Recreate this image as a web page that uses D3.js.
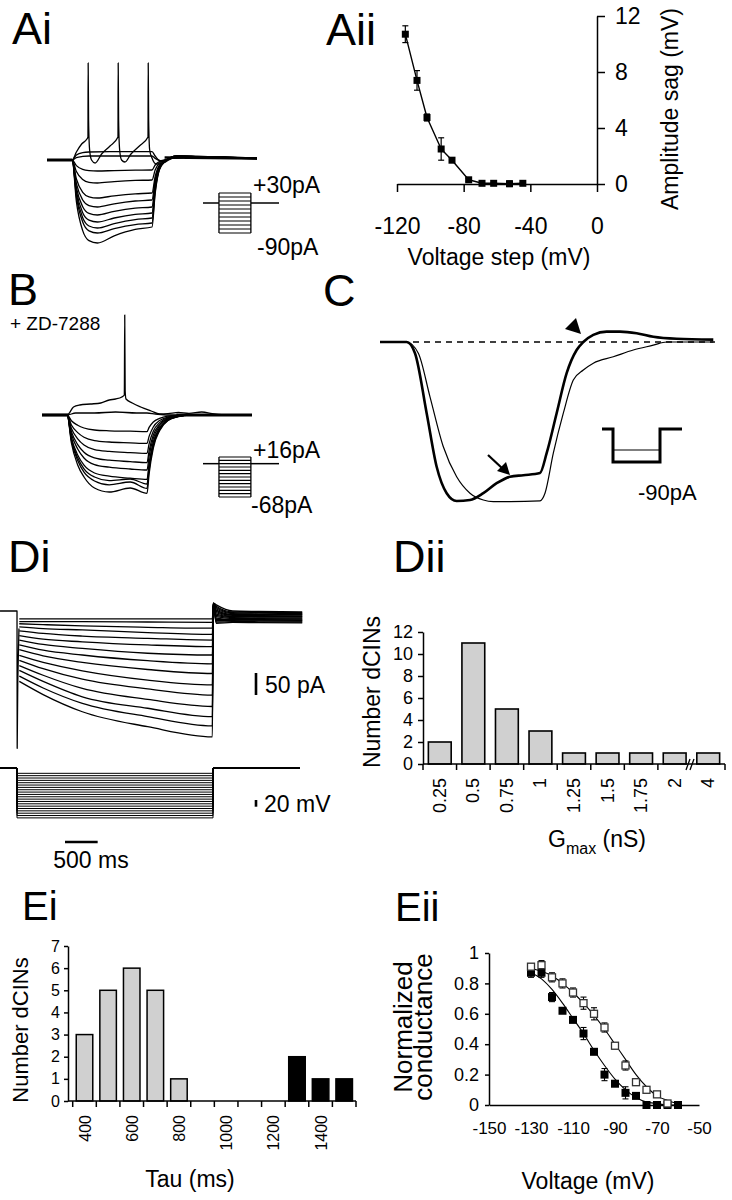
<!DOCTYPE html>
<html><head><meta charset="utf-8">
<script src="https://cdn.jsdelivr.net/npm/d3@7"></script>
<style>
body{margin:0;background:#fff}
svg{display:block}
text{font-family:"Liberation Sans",Arial,Helvetica,sans-serif;fill:#000}
</style></head>
<body><svg id="fig" width="732" height="1200"></svg>
<script>
// ================= DATA =================
// --- Ai: current-clamp traces (time ms, membrane potential mV)
const aiTime = [0,120,140,170,200,240,320,420,500,515,535,560,620,720,1000];
const aiHyper = [
 [-60,-60,-62.8,-64.7,-65.3,-65.5,-65.3,-65.1,-65,-62.5,-60.8,-60.2,-58.5,-58.5,-59.2],
 [-60,-60,-65.8,-69.8,-71.2,-71.5,-70.8,-70.2,-70,-65,-61.5,-60.3,-58.5,-58.5,-59.2],
 [-60,-60,-69.5,-76.2,-78.4,-79,-77.9,-76.9,-76.5,-68.3,-62.5,-60.5,-58.4,-58.5,-59.2],
 [-60,-60,-71.8,-80,-82.8,-83.5,-81.9,-80.5,-80,-70,-63,-60.6,-58.3,-58.4,-59.2],
 [-60,-60,-73.8,-83.4,-86.7,-87.5,-85.7,-84.1,-83.5,-71.8,-63.5,-60.7,-58.2,-58.4,-59.1],
 [-60,-60,-75.5,-86.4,-90.1,-91,-89,-87.2,-86.5,-73.3,-64,-60.8,-58.1,-58.3,-59.1],
 [-60,-60,-77,-88.9,-93,-94,-91.8,-89.8,-89,-74.5,-64.4,-60.9,-58,-58.3,-59.1],
 [-60,-60,-78.3,-91,-95.4,-96.5,-94.3,-92.3,-91.5,-75.8,-64.7,-60.9,-57.9,-58.2,-59],
 [-60,-60,-80.8,-95.3,-100.3,-101.5,-97.9,-94.7,-93.5,-76.8,-65,-61,-57.8,-58.2,-59]
];
const aiSpikeTime = [0,120,140,165,190,195,196,198,203,212,229,260,300,338,339,341,346,355,371,400,440,481,482,484,489,500,520,552,600,700,1000];
const aiSpikeV    = [-60,-60,-56,-52,-49.5,-48.5,-11.5,-40,-55,-60,-61.5,-57,-53,-48.5,-11.5,-40,-55,-60,-61,-57,-53,-48.5,-11.5,-40,-55,-59,-62,-61.5,-59,-58.5,-59.5];
const aiSubTime = [0,120,140,170,200,300,400,500,515,540,600,700,1000];
const aiSubV1   = [-60,-60,-57.5,-56.3,-56,-55.8,-55.8,-55.8,-58,-60.5,-59,-58.5,-59.3];
const aiSubV2   = [-60,-60,-58.8,-58.2,-58,-58,-58,-58,-59.2,-60.3,-59,-58.6,-59.3];
const aiStepLevels = [30,18,6,-6,-18,-30,-42,-54,-66,-78,-90];

// --- Aii: sag amplitude vs voltage step
const aiiVoltage = [-115,-108,-102,-93.5,-87,-77,-69,-62,-52.5,-44.5];
const aiiSag     = [10.7,7.4,4.75,2.5,1.7,0.3,0.05,0.05,0.02,0.05];
const aiiErr     = [0.6,0.7,0.25,0.8,0.15,0.1,0.05,0.05,0.2,0.05];
const aiiXTicks  = [-120,-80,-40,0];
const aiiYTicks  = [0,4,8,12];

// --- B: traces in ZD-7288
const bTime = [0,120,140,170,200,250,320,420,500,510,530,560,600,650,700,1000];
const bHyper = [
 [-60,-60,-62.9,-65.1,-66.5,-67.5,-67.9,-68.1,-68.3,-66.2,-63.5,-61.7,-60.6,-60.2,-60,-60],
 [-60,-60,-65,-68.8,-71.1,-72.8,-73.5,-73.9,-74.2,-70.7,-66,-62.8,-61,-60.3,-60,-60],
 [-60,-60,-66.7,-71.9,-75,-77.3,-78.2,-78.8,-79.2,-74.4,-68.1,-63.8,-61.3,-60.4,-60,-60],
 [-60,-60,-68.3,-74.8,-78.6,-81.4,-82.6,-83.3,-83.8,-77.9,-70,-64.8,-61.7,-60.5,-60,-60],
 [-60,-60,-69.6,-77,-81.5,-84.8,-86.1,-87,-87.5,-80.6,-71.6,-65.5,-61.9,-60.6,-60,-60],
 [-60,-60,-71.3,-80,-85.1,-89,-90.6,-91.6,-92.2,-84.2,-73.5,-66.4,-62.3,-60.6,-60,-60],
 [-60,-60,-72.1,-81.4,-86.9,-91,-92.8,-92,-94.5,-85.9,-74.5,-66.9,-62.4,-60.7,-60,-60],
 [-60,-60,-72.8,-82.8,-88.6,-93,-94.9,-93.5,-96.7,-87.5,-75.4,-67.3,-62.6,-60.7,-60,-60],
 [-60,-60,-74,-85,-91,-96.5,-98.5,-96.5,-99.2,-89.4,-76.5,-67.8,-62.7,-60.8,-60,-60]
];
const bSpikeTime = [0,120,150,180,230,280,320,350,380,392,394,396,400,430,470,520,560,600,650,700,760,820,880,1000];
const bSpikeV    = [-60,-60,-56,-55,-54.5,-54,-52.5,-52,-51,-50,-10,-48,-52,-54,-56,-58,-59.5,-59.3,-58.7,-59.2,-58.5,-59.5,-60,-60];
const bSubTime = [0,120,160,250,350,450,500,540,600,700,1000];
const bSubV    = [-60,-60,-59,-59,-58.5,-59,-59,-59.5,-60,-60,-60];
const bStepLevels = [16,9,2,-5,-12,-19,-26,-33,-40,-47,-54,-61,-68];

// --- C: superimposed responses (control thick, ZD thin)
const cThickTime = [0,80,105,140,170,200,230,270,310,350,390,430,480,500,530,560,590,610,640,680,720,770,820,890,1000];
const cThickV    = [-60,-60,-62.8,-77.8,-91.2,-97.8,-99.75,-99.5,-97.8,-95.3,-93.7,-93.3,-92.75,-87.8,-77.8,-67.8,-62,-60,-58.2,-57.4,-57.4,-57.8,-58.7,-59.2,-59.4];
const cThinTime  = [0,80,115,150,190,230,270,310,340,390,480,495,520,550,580,610,640,700,760,820,860,1000];
const cThinV     = [-60,-60,-62.8,-73.7,-86.2,-93.7,-97.8,-99.5,-99.9,-99.9,-99.7,-97.8,-87.8,-77.8,-69.5,-67,-65.3,-63.7,-62,-60.8,-60,-60];

// --- Di: voltage-clamp currents (time ms, current pA)
const diTime = [35,400,1000,2000,2990];
const diCurrents = [
 [-18,-18,-18,-18,-18],
 [-24,-24,-24,-25,-26],
 [-29,-31,-34,-37,-39],
 [-36,-40,-43,-49,-53],
 [-45,-51,-57,-62,-66],
 [-56,-64,-70,-77,-81],
 [-66,-76,-85,-96,-100],
 [-77,-89,-100,-113,-120],
 [-88,-102,-117,-133,-142],
 [-101,-117,-136,-157,-168],
 [-112,-131,-155,-177,-191],
 [-124,-146,-176,-201,-217],
 [-135,-160,-195,-221,-240],
 [-148,-175,-210,-240,-261],
 [-160,-190,-229,-263,-286]
];
const diTailTime = [3005,3050,3300,3700,4366];
const diTailPeak = [18,18,18,17,17,17,16,16,15,15,14,14,13,13,12];
const diTailA = [14,11,8,5,2,-1,-4,-7,-10,-13,-16,-19,-22,-25,-28];
const diTailB = [0,-2,-4,-6,-8,-10,-12,-13,-15,-17,-19,-20,-22,-24,-26];
const diTailEnd = [-2,-4,-6,-8,-9,-11,-13,-14,-16,-18,-20,-21,-23,-25,-27];
const diTransientT = [-260,0,3,12,30];
const diTransientI = [0,0,-312,-160,-40];
const diHoldV = -50;
const diStepV = [-65,-72,-79,-86,-93,-100,-107,-114,-121,-128,-135,-142,-149,-156,-163,-170,-177,-184,-191,-198];

// --- Dii: Gmax histogram
const diiCategories = ["0.25","0.5","0.75","1","1.25","1.5","1.75","2","4"];
const diiCounts = [2,11,5,3,1,1,1,1,1];
const diiYTicks = [0,2,4,6,8,10,12];

// --- Ei: Tau histogram
const eiCategories = [400,500,600,700,800,900,1000,1100,1200,1300,1400,1500];
const eiCounts = [3,5,6,5,1,0,0,0,0,2,1,1];
const eiGroup = ["fast","fast","fast","fast","fast","fast","fast","fast","fast","slow","slow","slow"];
const eiTickLabels = [400,600,800,1000,1200,1400];
const eiYTicks = [0,1,2,3,4,5,6,7];

// --- Eii: activation curves
const eiiVoltage = [-130,-125,-120,-115,-110,-105,-100,-95,-90,-85,-80,-75,-70,-65,-60];
const eiiFilled = [0.87,0.87,0.71,0.62,0.56,0.47,0.35,0.20,0.14,0.08,0.06,0.0,0.0,0.0,0.0];
const eiiFilledErr = [0.03,0.03,0.03,0.01,0.01,0.04,0.01,0.04,0.01,0.04,0.01,0,0,0,0];
const eiiOpenV = [-130,-125,-120,-115,-110,-105,-100,-95,-90,-85,-80,-75,-70,-65];
const eiiOpen = [0.91,0.92,0.84,0.80,0.74,0.67,0.60,0.51,0.39,0.26,0.15,0.10,0.07,0.01];
const eiiOpenErr = [0.02,0.03,0.03,0.03,0.03,0.04,0.04,0.03,0.02,0.03,0.02,0.01,0.01,0.01];
const eiiFitOpen = [0.90,0.88,0.85,0.80,0.74,0.67,0.59,0.50,0.40,0.30,0.20,0.12,0.06,0.03,0.01];
const eiiFitFilled = [0.87,0.83,0.76,0.67,0.57,0.47,0.36,0.26,0.17,0.10,0.05,0.02,0.01,0.0,0.0];
const eiiXTicks = [-150,-130,-110,-90,-70,-50];
const eiiYTicks = [0,0.2,0.4,0.6,0.8,1];

// ================= DRAWING =================
const svg = d3.select("#fig");
const BAR_GRAY = "#d0d0d0";

function text(x, y, s, size, anchor, rot) {
  const t = svg.append("text").attr("font-size", size).attr("text-anchor", anchor || "start").text(s);
  if (rot) t.attr("transform", `translate(${x},${y}) rotate(${rot})`);
  else t.attr("x", x).attr("y", y);
  return t;
}
function trace(xs, ys, T, V, w, curve) {
  svg.append("path").datum(d3.zip(T, V))
    .attr("d", d3.line().x(d => xs(d[0])).y(d => ys(d[1])).curve(curve || d3.curveMonotoneX))
    .attr("fill", "none").attr("stroke", "#000").attr("stroke-width", w || 1.3)
    .attr("stroke-linejoin", "round");
}
function line(x1, y1, x2, y2, w) {
  svg.append("line").attr("x1", x1).attr("y1", y1).attr("x2", x2).attr("y2", y2)
    .attr("stroke", "#000").attr("stroke-width", w || 1.3);
}
function styleAxis(g, size) {
  g.attr("font-family", null).attr("font-size", size);
  g.selectAll("path,line").attr("stroke", "#000").attr("stroke-width", 1.5);
  g.selectAll("text").attr("fill", "#000");
}

// ---------- Panel labels ----------
text(12, 44, "Ai", 45); text(326, 45, "Aii", 45);
text(8, 305, "B", 45); text(323, 306, "C", 45);
text(8, 572, "Di", 45); text(393, 572, "Dii", 45);
text(22, 920, "Ei", 40); text(395, 921, "Eii", 40);

// ---------- Ai ----------
const xA = d3.scaleLinear([0, 1000], [47, 257]);
const yA = d3.scaleLinear([-60, -10], [160, 60]);
trace(xA, yA, [0, 120], [-60, -60], 3, d3.curveLinear);
trace(xA, yA, [560, 1000], [-58.8, -59.2], 2.5, d3.curveLinear);
aiHyper.forEach(v => trace(xA, yA, aiTime, v, 1.3));
trace(xA, yA, aiSubTime, aiSubV1, 1.3);
trace(xA, yA, aiSubTime, aiSubV2, 1.3);
trace(xA, yA, aiSpikeTime, aiSpikeV, 1.3);
// inset
function stepInset(levels, yTop, yBot, hold) {
  const yi = d3.scaleLinear([levels[0], levels[levels.length - 1]], [yTop, yBot]);
  const xi = d3.scaleLinear([0, 1], [203, 279]);
  line(xi(0), yi(hold), xi(0.21), yi(hold), 1.5);
  line(xi(0.63), yi(hold), xi(1), yi(hold), 1.5);
  levels.forEach(l => line(xi(0.21), yi(l), xi(0.63), yi(l), 1.1));
  line(xi(0.21), yi(levels[0]), xi(0.21), yi(levels[levels.length - 1]), 1.3);
  line(xi(0.63), yi(levels[0]), xi(0.63), yi(levels[levels.length - 1]), 1.3);
}
stepInset(aiStepLevels, 193, 233, 0);
text(253, 193, "+30pA", 23);
text(257, 255, "-90pA", 23);

// ---------- Aii ----------
const xAii = d3.scaleLinear([-120, 0], [397, 597]);
const yAii = d3.scaleLinear([0, 12], [184, 16]);
const gAx = svg.append("g").attr("transform", "translate(0,184)")
  .call(d3.axisBottom(xAii).tickValues(aiiXTicks).tickSize(8).tickSizeOuter(0).tickPadding(26).tickFormat(d => String(d)));
styleAxis(gAx, 23);
const gAy = svg.append("g").attr("transform", "translate(597,0)")
  .call(d3.axisRight(yAii).tickValues(aiiYTicks).tickSize(8).tickSizeOuter(0).tickPadding(10).tickFormat(d => String(d)));
styleAxis(gAy, 23);
trace(xAii, yAii, aiiVoltage, aiiSag, 1.4, d3.curveLinear);
aiiVoltage.forEach((v, i) => {
  const x = xAii(v), y1 = yAii(aiiSag[i] - aiiErr[i]), y2 = yAii(aiiSag[i] + aiiErr[i]);
  line(x, y1, x, y2, 1.2); line(x - 3, y1, x + 3, y1, 1.2); line(x - 3, y2, x + 3, y2, 1.2);
});
svg.append("g").selectAll("rect").data(aiiVoltage).join("rect")
  .attr("x", d => xAii(d) - 3.5).attr("y", (d, i) => yAii(aiiSag[i]) - 3.5)
  .attr("width", 7).attr("height", 7).attr("fill", "#000");
text(499, 265, "Voltage step (mV)", 23, "middle");
text(678, 109, "Amplitude sag (mV)", 23, "middle", -90);

// ---------- B ----------
const xB = d3.scaleLinear([0, 1000], [42, 252]);
const yB = d3.scaleLinear([-60, -10], [415, 315]);
trace(xB, yB, [0, 125], [-60, -60], 3.2, d3.curveLinear);
trace(xB, yB, [640, 1000], [-60, -60], 3.2, d3.curveLinear);
bHyper.forEach(v => trace(xB, yB, bTime, v, 1.3));
trace(xB, yB, bSubTime, bSubV, 1.3);
trace(xB, yB, bSpikeTime, bSpikeV, 1.3);
stepInset(bStepLevels, 457, 497, 2);
text(10, 330, "+ ZD-7288", 19);
text(253, 458, "+16pA", 23);
text(251, 513, "-68pA", 23);

// ---------- C ----------
const xC = d3.scaleLinear([0, 1000], [380, 713.3]);
const yC = d3.scaleLinear([-60, -100], [342, 502]);
svg.append("line").attr("x1", xC(0)).attr("x2", xC(1005)).attr("y1", yC(-60)).attr("y2", yC(-60))
  .attr("stroke", "#000").attr("stroke-width", 1.6).attr("stroke-dasharray", "6,5");
trace(xC, yC, cThinTime, cThinV, 1.2);
trace(xC, yC, cThickTime, cThickV, 2.6);
// arrowhead (triangle) and arrow
svg.append("path").attr("d", "M581,334 L565,329 L576,318 Z").attr("fill", "#000");
line(488, 455, 503, 469, 2.2);
svg.append("path").attr("d", "M510,475 L497,471 L506,462 Z").attr("fill", "#000");
// inset step
svg.append("path").attr("d", "M602,429 L613,429 L613,462 L660,462 L660,429 L682,429")
  .attr("fill", "none").attr("stroke", "#000").attr("stroke-width", 3);
line(613, 450, 660, 450, 1.2);
text(638, 500, "-90pA", 22);

// ---------- Di ----------
const xDi = d3.scaleLinear([0, 3000], [17, 213]);
const yDi = d3.scaleLinear([0, -300], [611, 743]);
const yDv = d3.scaleLinear([-50, -70], [768.3, 775]);
trace(xDi, yDi, diTransientT, diTransientI, 1.3, d3.curveLinear);
diCurrents.forEach((c, i) => {
  const T = diTime.concat(diTailTime);
  const V = c.concat([diTailPeak[i], diTailA[i], diTailB[i], (diTailB[i] + diTailEnd[i]) / 2, diTailEnd[i]]);
  trace(xDi, yDi, T, V, 1.3, d3.curveMonotoneX);
});
// voltage protocol
diStepV.forEach(v => {
  trace(xDi, yDv, [-260, 0, 0, 3000, 3000, 1330 + 3000], [diHoldV, diHoldV, v, v, diHoldV, diHoldV], 1, d3.curveLinear);
});
// scale bars
line(256, 673, 256, 673 + (yDi(-50) - yDi(0)), 2.6);
text(265, 693, "50 pA", 23);
line(256, 800, 256, 800 + (yDv(-70) - yDv(-50)), 2.6);
text(264, 812, "20 mV", 23);
line(65, 842, 65 + (xDi(500) - xDi(0)), 842, 2.6);
text(91, 868, "500 ms", 23, "middle");

// ---------- Dii ----------
const xD = d3.scaleBand(diiCategories, [423, 725]);
const yD = d3.scaleLinear([0, 12], [764, 632]);
const bwD = xD.bandwidth() * 0.68;
svg.append("g").selectAll("rect").data(diiCategories).join("rect")
  .attr("x", d => xD(d) + (xD.bandwidth() - bwD) / 2).attr("y", (d, i) => yD(diiCounts[i]))
  .attr("width", bwD).attr("height", (d, i) => yD(0) - yD(diiCounts[i]))
  .attr("fill", BAR_GRAY).attr("stroke", "#000").attr("stroke-width", 1.6);
const gDy = svg.append("g").attr("transform", "translate(423,0)")
  .call(d3.axisLeft(yD).tickValues(diiYTicks).tickSize(5).tickSizeOuter(0).tickPadding(5).tickFormat(d3.format("d")));
styleAxis(gDy, 18);
line(423, 764, 725, 764, 1.5);
diiCategories.forEach((c, i) => {
  if (i !== diiCategories.length - 1) line(xD(c), 764, xD(c), 770, 1.5);
  text(xD(c) + xD.bandwidth() / 2 + 6, 778, c, 18, "end", -90);
});
line(725, 764, 725, 770, 1.5);
line(686, 770, 690, 759, 1.3); line(690, 770, 694, 759, 1.3);
const gt = svg.append("text").attr("x", 597).attr("y", 847).attr("font-size", 23).attr("text-anchor", "middle");
gt.append("tspan").text("G");
gt.append("tspan").attr("font-size", 16).attr("dy", 7).text("max");
gt.append("tspan").attr("dy", -7).text(" (nS)");
text(380, 692, "Number dCINs", 23, "middle", -90);

// ---------- Ei ----------
const xE = d3.scaleBand(eiCategories, [72.7, 356]);
const yE = d3.scaleLinear([0, 7], [1101, 946]);
const bwE = xE.bandwidth() * 0.7;
const eiColor = { fast: BAR_GRAY, slow: "#000" };
svg.append("g").selectAll("rect").data(eiCategories).join("rect")
  .attr("x", d => xE(d) + (xE.bandwidth() - bwE) / 2).attr("y", (d, i) => yE(eiCounts[i]))
  .attr("width", bwE).attr("height", (d, i) => yE(0) - yE(eiCounts[i]))
  .attr("fill", (d, i) => eiColor[eiGroup[i]]).attr("stroke", "#000").attr("stroke-width", 1.5);
const gEy = svg.append("g").attr("transform", "translate(68,0)")
  .call(d3.axisLeft(yE).tickValues(eiYTicks).tickSize(4).tickSizeOuter(0).tickPadding(4).tickFormat(d3.format("d")));
styleAxis(gEy, 16);
line(68, 1101, 356, 1101, 1.5);
eiCategories.forEach(c => line(xE(c), 1101, xE(c), 1107, 1.5));
line(356, 1101, 356, 1107, 1.5);
eiTickLabels.forEach(c => text(xE(c) + xE.bandwidth() / 2 + 6, 1115, String(c), 16, "end", -90));
text(190, 1187, "Tau (ms)", 23, "middle");
text(28, 1030, "Number dCINs", 22, "middle", -90);

// ---------- Eii ----------
const xEii = d3.scaleLinear([-150, -50], [489, 699]);
const yEii = d3.scaleLinear([0, 1], [1105, 953]);
const gEiy = svg.append("g").attr("transform", "translate(489,0)")
  .call(d3.axisLeft(yEii).tickValues(eiiYTicks).tickSize(4).tickSizeOuter(0).tickPadding(6)
    .tickFormat(d => (d === 0 || d === 1) ? String(d) : d.toFixed(1)));
styleAxis(gEiy, 18);
const gEix = svg.append("g").attr("transform", "translate(0,1105)")
  .call(d3.axisBottom(xEii).tickValues(eiiXTicks).tickSize(0).tickSizeOuter(0).tickPadding(17).tickFormat(d => String(d)));
styleAxis(gEix, 17);
trace(xEii, yEii, eiiVoltage, eiiFitFilled, 1.1, d3.curveMonotoneX);
trace(xEii, yEii, eiiVoltage, eiiFitOpen, 1.1, d3.curveMonotoneX);
function errBars(V, M, E) {
  V.forEach((v, i) => {
    if (E[i] <= 0) return;
    const x = xEii(v), y1 = yEii(M[i] - E[i]), y2 = yEii(M[i] + E[i]);
    line(x, y1, x, y2, 1.1); line(x - 3, y1, x + 3, y1, 1.1); line(x - 3, y2, x + 3, y2, 1.1);
  });
}
errBars(eiiVoltage, eiiFilled, eiiFilledErr);
errBars(eiiOpenV, eiiOpen, eiiOpenErr);
svg.append("g").selectAll("rect").data(eiiVoltage).join("rect")
  .attr("x", d => xEii(d) - 4).attr("y", (d, i) => yEii(eiiFilled[i]) - 4)
  .attr("width", 8).attr("height", 8).attr("fill", "#000");
svg.append("g").selectAll("rect").data(eiiOpenV).join("rect")
  .attr("x", d => xEii(d) - 3.5).attr("y", (d, i) => yEii(eiiOpen[i]) - 3.5)
  .attr("width", 7).attr("height", 7).attr("fill", "#fff").attr("stroke", "#333").attr("stroke-width", 1.3);
text(412, 1027, "Normalized", 26, "middle", -90);
text(432, 1027, "conductance", 26, "middle", -90);
text(588, 1189, "Voltage (mV)", 23, "middle");
</script></body></html>
